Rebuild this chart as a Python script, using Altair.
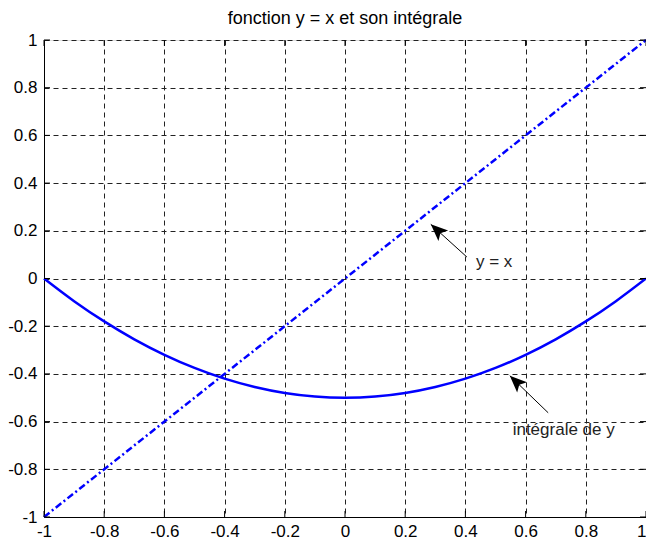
import altair as alt
import pandas as pd

# y = x (dash-dot line)
line_x = [-1.0, 1.0]
line_y = [-1.0, 1.0]

# integral curve
curve_x = [-1.0, -0.9, -0.8, -0.7, -0.6, -0.5, -0.4, -0.3, -0.2, -0.1, 0.0,
           0.1, 0.2, 0.3, 0.4, 0.5, 0.6, 0.7, 0.8, 0.9, 1.0]
curve_y = [0.0, -0.095, -0.18, -0.255, -0.32, -0.375, -0.42, -0.455, -0.48, -0.495, -0.5,
           -0.495, -0.48, -0.455, -0.42, -0.375, -0.32, -0.255, -0.18, -0.095, 0.0]

# annotations
ann_text = ["y = x", "intégrale de y"]
ann_tx = [0.435, 0.557]
ann_ty = [0.07, -0.634]
arrow_tail_x = [0.405, 0.675]
arrow_tail_y = [0.09, -0.563]
arrow_tip_x = [0.285, 0.5475]
arrow_tip_y = [0.227, -0.4076]
arrow_angle = [312.5, 313.5]

x_ticks = [-1, -0.8, -0.6, -0.4, -0.2, 0, 0.2, 0.4, 0.6, 0.8, 1]
y_ticks = [-1, -0.8, -0.6, -0.4, -0.2, 0, 0.2, 0.4, 0.6, 0.8, 1]

FONT = "Liberation Sans"
FS = 17
W = 602
H = 477

xscale = alt.Scale(domain=[-1, 1], nice=False, zero=False)
yscale = alt.Scale(domain=[-1, 1], nice=False, zero=False)

xaxis = alt.Axis(values=x_ticks, labelExpr="'' + datum.value", title=None,
                 grid=True, gridColor="#222222", gridDash=[5, 4], gridWidth=1,
                 domainColor="black", ticks=False, labelFlush=False,
                 labelAlign={"condition": {"test": "datum.value == 1", "value": "right"},
                             "value": "center"},
                 labelOverlap=False, labelPadding=6, labelFont=FONT,
                 labelFontSize=FS, labelColor="black")
yaxis = alt.Axis(values=y_ticks, labelExpr="'' + datum.value", title=None,
                 grid=True, gridColor="#222222", gridDash=[5, 4], gridWidth=1,
                 domainColor="black", ticks=False, labelFlush=False,
                 labelOverlap=False, labelPadding=7, labelFont=FONT,
                 labelFontSize=FS, labelColor="black")

df_line = pd.DataFrame({"x": line_x, "y": line_y})
df_curve = pd.DataFrame({"x": curve_x, "y": curve_y})
df_ann = pd.DataFrame({"label": ann_text, "x": ann_tx, "y": ann_ty})
df_arrow = pd.DataFrame({"x": arrow_tail_x, "y": arrow_tail_y,
                         "x2": arrow_tip_x, "y2": arrow_tip_y,
                         "angle": arrow_angle})
df_xt = pd.DataFrame({"t": x_ticks})
df_yt = pd.DataFrame({"t": y_ticks})

base_line = alt.Chart(df_line).mark_line(
    color="#0000FF", strokeWidth=2.5, strokeDash=[7, 3, 2, 3]
).encode(x=alt.X("x:Q", scale=xscale, axis=xaxis),
         y=alt.Y("y:Q", scale=yscale, axis=yaxis))

curve = alt.Chart(df_curve).mark_line(
    color="#0000FF", strokeWidth=2.5, interpolate="monotone"
).encode(x=alt.X("x:Q", scale=xscale), y=alt.Y("y:Q", scale=yscale))

arrow_lines = alt.Chart(df_arrow).mark_rule(color="black", strokeWidth=1).encode(
    x=alt.X("x:Q", scale=xscale), y=alt.Y("y:Q", scale=yscale),
    x2="x2:Q", y2="y2:Q")

arrow_heads = alt.Chart(df_arrow).mark_point(
    shape="M0,0 L-0.55,1.3 L0,1.0 L0.55,1.3 Z",
    filled=True, color="black", opacity=1, size=680
).encode(x=alt.X("x2:Q", scale=xscale), y=alt.Y("y2:Q", scale=yscale),
         angle=alt.Angle("angle:Q", scale=None))

texts = alt.Chart(df_ann).mark_text(
    align="left", baseline="middle", font=FONT, fontSize=FS, color="#222222"
).encode(x=alt.X("x:Q", scale=xscale), y=alt.Y("y:Q", scale=yscale),
         text="label:N")

tick_bottom = alt.Chart(df_xt).mark_rule(color="black", strokeWidth=1).encode(
    x=alt.X("t:Q", scale=xscale), y=alt.value(H), y2=alt.value(H - 6))
tick_top = alt.Chart(df_xt).mark_rule(color="black", strokeWidth=1).encode(
    x=alt.X("t:Q", scale=xscale), y=alt.value(0), y2=alt.value(6))
tick_left = alt.Chart(df_yt).mark_rule(color="black", strokeWidth=1).encode(
    y=alt.Y("t:Q", scale=yscale), x=alt.value(0), x2=alt.value(6))
tick_right = alt.Chart(df_yt).mark_rule(color="black", strokeWidth=1).encode(
    y=alt.Y("t:Q", scale=yscale), x=alt.value(W), x2=alt.value(W - 6))

chart = alt.layer(
    base_line, curve, arrow_lines, arrow_heads, texts,
    tick_bottom, tick_top, tick_left, tick_right
).properties(
    width=W, height=H,
    title=alt.TitleParams("fonction y = x et son intégrale", font=FONT,
                          fontSize=18, fontWeight="normal", color="black",
                          anchor="middle", offset=3),
    autosize=alt.AutoSizeParams(type="none"),
    padding={"left": 36, "top": 32, "right": 0, "bottom": 22}
).configure_view(stroke="black", strokeWidth=1).configure(background="white")

chart.save("out.html", embed_options={"renderer": "svg", "actions": False})
